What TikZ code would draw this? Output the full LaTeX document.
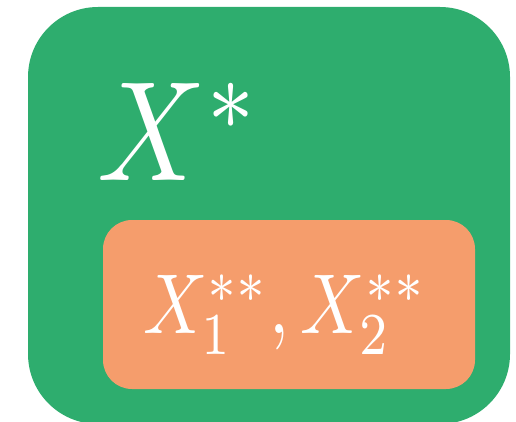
\documentclass[tikz,border=0pt]{standalone}
\usepackage{graphicx}
\definecolor{setgreen}{RGB}{46,173,110}
\definecolor{setorange}{RGB}{245,157,108}
\tikzset{
  setbox/.style={rounded corners=#1,inner sep=0pt,draw=none},
  setlabel/.style={text=white,inner sep=0pt}
}
\begin{document}
\begin{tikzpicture}[x=1pt,y=-1pt]
  \useasboundingbox (0,0) rectangle (516,422);
  \clip (0,0) rectangle (516,422);
  \node[setbox=70pt,fill=setgreen,minimum width=482pt,minimum height=417pt] (outer) at (269,215.5) {};
  \node[setbox=29pt,fill=setorange,minimum width=372pt,minimum height=169pt] (inner) at (289,304.5) {};
  \node[setlabel,anchor=base west] (xstar) at (97,181) {\scalebox{12}[14.2]{$X^*$}};
  \node[setlabel,anchor=base] (xparts) at (285,333) {\scalebox{7.1}[8.5]{$X_1^{**},X_2^{**}$}};
\end{tikzpicture}
\end{document}
